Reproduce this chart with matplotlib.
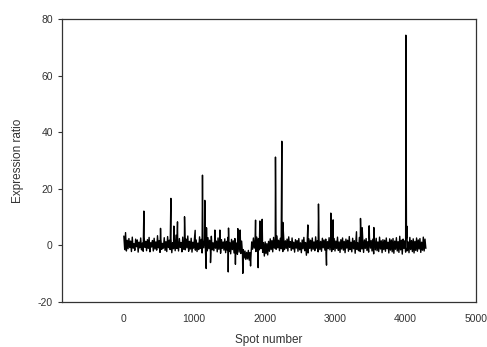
import numpy as np
import matplotlib
matplotlib.use("Agg")
import matplotlib.pyplot as plt

plt.rcParams['font.family'] = ['Liberation Sans', 'DejaVu Sans']
plt.rcParams['axes.unicode_minus'] = False

# baseline noise (evenly spread over spots 0..4290)
base = [
    3.2, -1.5, 4.5, -2.0, 1.8, -1.2, 2.4, -0.8, 1.5, -2.2, 2.9, -1.0, 0.6, -1.8, 2.2, -0.5, 1.9, -2.4, 1.1, -0.9,
    2.6, -1.6, 0.8, -2.1, 3.0, -0.7, 1.4, -1.9, 2.0, -1.1, 2.8, -2.3, 0.9, -0.6, 1.7, -2.0, 2.5, -1.3, 1.2, -1.7,
    3.4, -0.9, 1.6, -2.5, 2.1, -1.4, 0.7, -1.0, 2.7, -1.8, 1.3, -2.2, 3.1, -0.8, 1.8, -1.5, 2.3, -2.6, 0.9, -1.2,
    2.0, -1.9, 3.6, -1.1, 1.5, -2.0, 2.4, -0.7, 1.0, -2.3, 2.9, -1.4, 1.7, -1.6, 2.2, -0.9, 3.3, -2.1, 1.4, -1.3,
    2.5, -2.4, 1.1, -1.0, 2.8, -1.7, 1.9, -2.2, 0.8, -1.5, 3.0, -1.1, 2.1, -2.7, 1.6, -0.9, 2.4, -1.8, 1.3, -2.0,
    2.7, -1.2, 1.8, -2.5, 3.2, -1.6, 0.9, -1.9, 2.2, -1.0, 1.5, -2.3, 2.6, -1.4, 1.9, -2.8, 2.0, -1.1, 1.2, -1.7,
    2.3, -2.6, 1.4, -1.8, 2.9, -2.2, 1.0, -3.0, 2.1, -1.5, 1.6, -2.7, 2.4, -1.9, 0.8, -3.2, 1.9, -2.4, 1.1, -2.9,
    1.5, -2.8, -1.5, -4.5, -2.0, -5.0, -2.5, -4.8, -1.8, -5.2, -2.6, -4.6, 1.2, -1.4, 2.6, -1.0, 1.8, -2.2, 2.9, -0.8,
    2.4, -1.6, 3.0, -1.2, 1.5, -2.5, 0.9, -3.8, 1.2, -2.9, 0.6, -3.4, 1.4, -2.1, 2.3, -1.5, 1.7, -2.3, 2.8, -1.0,
    2.1, -1.4, 3.3, -0.9, 1.8, -1.9, 2.5, -1.2, 1.0, -2.2, 2.7, -1.5, 1.6, -1.1, 2.2, -2.0, 3.0, -0.7, 1.3, -1.8,
    2.6, -1.3, 1.1, -2.4, 2.0, -1.0, 1.7, -2.1, 2.4, -1.6, 0.9, -2.6, 1.9, -1.2, 2.8, -1.9, 1.0, -3.5, 1.5, -2.7,
    2.3, -1.1, 1.8, -2.0, 2.6, -1.4, 1.2, -1.9, 3.0, -1.0, 1.6, -2.3, 2.1, -1.5, 1.4, -2.1, 2.5, -0.9, 1.9, -1.7,
    2.2, -2.4, 1.3, -1.2, 2.7, -1.6, 1.7, -2.2, 0.8, -1.4, 2.4, -2.0, 1.5, -1.1, 2.9, -1.8, 1.2, -2.5, 2.0, -1.3,
    2.6, -1.7, 1.4, -2.6, 2.2, -1.0, 1.8, -2.1, 3.1, -1.5, 1.1, -2.3, 2.5, -1.2, 1.6, -2.8, 2.3, -1.4, 0.9, -1.9,
    2.8, -2.2, 1.5, -1.3, 2.1, -2.5, 1.9, -1.1, 2.4, -1.8, 1.3, -2.4, 2.7, -1.0, 1.7, -2.0, 2.2, -3.0, 1.4, -1.6,
    2.5, -1.9, 1.2, -2.2, 2.9, -1.3, 1.6, -2.6, 2.0, -1.5, 1.8, -2.1, 2.6, -1.2, 1.1, -2.7, 2.3, -1.7, 1.9, -2.3,
    2.4, -2.8, 1.5, -1.4, 2.7, -2.0, 1.3, -2.5, 3.2, -1.6, 1.8, -3.1, 2.2, -1.1, 1.6, -2.4, 2.5, -1.9, 1.2, -2.6,
    2.8, -1.5, 1.7, -2.2, 2.3, -2.7, 1.4, -1.8, 2.6, -2.1, 1.9, -1.3, 2.4, -2.5, 1.1, -1.7, 2.9, -2.0, 2.2, -1.0,
]

# single spots that stick out of the band
spike_spot = [284, 521, 668, 710, 762, 862, 1013, 1117, 1150, 1170, 1174, 1231, 1293, 1364,
              1483, 1487, 1585, 1619, 1652, 1690, 1800, 1871, 1908, 1932, 1965, 2154, 2244,
              2259, 2614, 2765, 2879, 2940, 2973, 3305, 3362, 3386, 3485, 3551, 4006, 4020]
spike_val = [12.1, 6.0, 16.6, 6.8, 8.3, 10.1, 5.3, 24.8, 15.9, -8.2, 6.2, -6.1, 5.4, 5.4,
             -9.4, 6.1, -6.7, 5.9, 5.4, -9.9, -7.3, 8.9, -7.9, 8.6, 9.2, 31.2, 36.8,
             8.1, 7.2, 14.6, -7.0, 11.4, 9.0, 4.8, 9.5, 6.2, 6.9, 6.3, 74.3, 6.8]

base_spot = np.linspace(0, 4290, len(base))
spot = np.concatenate([base_spot, spike_spot])
ratio = np.concatenate([base, spike_val])
order = np.argsort(spot, kind="stable")
spot = spot[order]
ratio = ratio[order]

fig = plt.figure(figsize=(4.87, 3.47), dpi=100)
ax = fig.add_axes([0.127, 0.130, 0.850, 0.815])
ax.plot(spot, ratio, color="black", lw=1.0)

ax.set_xlim(-881, 5000)
ax.set_ylim(-20, 80)
ax.set_xticks([0, 1000, 2000, 3000, 4000, 5000])
ax.set_yticks([-20, 0, 20, 40, 60, 80])
ax.tick_params(axis="x", length=0, pad=9, labelsize=7.5, colors="#333333")
ax.tick_params(axis="y", length=3, width=0.8, direction="out", labelsize=7.5, colors="#333333")
for s in ax.spines.values():
    s.set_linewidth(0.9)
    s.set_color("#333333")
ax.set_xlabel("Spot number", fontsize=8.5, color="#333333", labelpad=7)
ax.set_ylabel("Expression ratio", fontsize=8.5, color="#333333", labelpad=10)

fig.savefig("out.png", dpi=100)
